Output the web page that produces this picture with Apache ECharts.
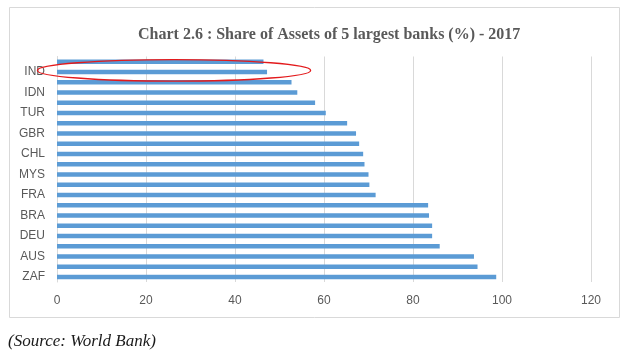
<!DOCTYPE html>
<html>
<head>
<meta charset="utf-8">
<script src="https://cdn.jsdelivr.net/npm/echarts@6/dist/echarts.min.js"></script>
<style>
html,body{margin:0;padding:0;background:#fff;}
#c{width:630px;height:357px;}
</style>
</head>
<body>
<div id="c"></div>
<script>
// Categories bottom-to-top (ZAF at bottom); only every other one is labelled in the source
var categories = ['ZAF','c21','AUS','c19','DEU','c17','BRA','c15','FRA','c13','MYS','c11','CHL','c9','GBR','c7','TUR','c5','IDN','c3','IND','c1'];
var shares = [98.7,94.5,93.7,86.0,84.3,84.3,83.6,83.4,71.6,70.2,70.0,69.1,68.8,67.9,67.2,65.2,60.4,58.0,54.0,52.7,47.2,46.4];
var xTicks = {min:0, max:120, interval:20};
var titleText = 'Chart 2.6 : Share of Assets of 5 largest banks (%) - 2017';
var sourceText = '(Source: World Bank)';

var chart = echarts.init(document.getElementById('c'), null, {renderer:'canvas'});
var grey = '#595959';
var frame = {type:'rect', shape:{x:9.5, y:7.5, width:610, height:310}, style:{fill:null, stroke:'#d9d9d9', lineWidth:1}, silent:true, z:-1};
var source = {type:'text', left:8, top:333, style:{text:sourceText, font:'italic 17px "Liberation Serif"', fill:'#1a1a1a'}};
chart.setOption({
  animation:false,
  backgroundColor:'#fff',
  title:{
    text:titleText, left:133, top:22,
    textStyle:{fontFamily:'Liberation Serif', fontWeight:'bold', fontSize:16, color:'#595959'}
  },
  grid:{left:57, right:39, top:56.5, bottom:75},
  xAxis:{
    type:'value', min:xTicks.min, max:xTicks.max, interval:xTicks.interval,
    axisLine:{show:false}, axisTick:{show:false},
    splitLine:{show:true, lineStyle:{color:'#d9d9d9', width:1}},
    axisLabel:{color:grey, fontFamily:'Liberation Sans', fontSize:12, margin:13}
  },
  yAxis:{
    type:'category', data:categories,
    axisLine:{show:true, lineStyle:{color:'#d9d9d9'}},
    axisTick:{show:false},
    axisLabel:{interval:1, color:grey, fontFamily:'Liberation Sans', fontSize:12, margin:12}
  },
  series:[{
    type:'bar', data:shares, barWidth:4.5,
    itemStyle:{color:'#5B9BD5'}
  }],
  graphic:[frame, source]
});
// red ellipse annotation around IND
var pL = chart.convertToPixel({xAxisIndex:0, yAxisIndex:0}, [-4.4, 'IND']);
var pR = chart.convertToPixel({xAxisIndex:0, yAxisIndex:0}, [57, 'IND']);
chart.setOption({graphic:[
  frame, source,
  {type:'ellipse', shape:{cx:(pL[0]+pR[0])/2, cy:pL[1]-1.5, rx:(pR[0]-pL[0])/2, ry:10.8}, style:{fill:null, stroke:'#e31a1c', lineWidth:1.3}, z:100}
]});
</script>
</body>
</html>
